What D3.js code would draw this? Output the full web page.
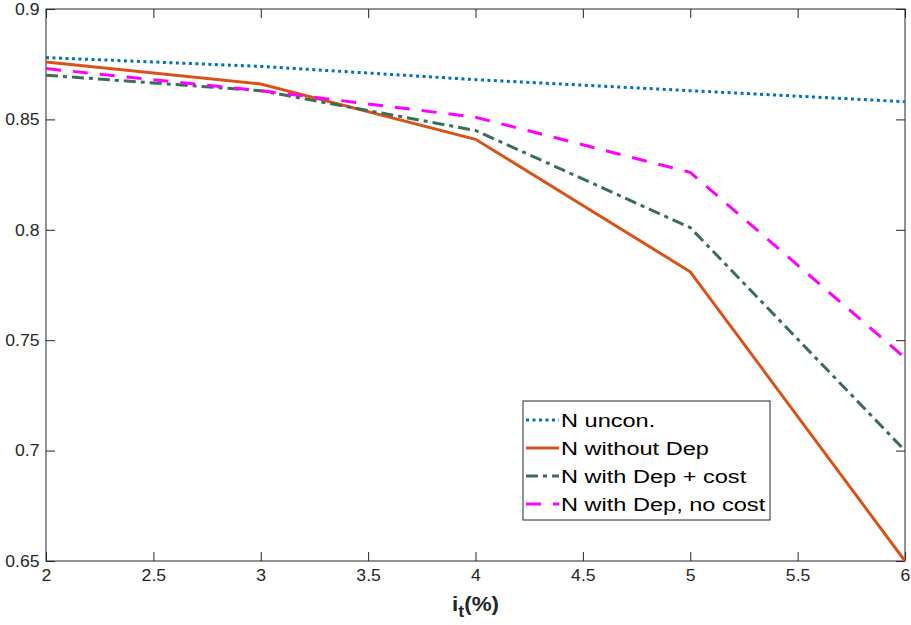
<!DOCTYPE html>
<html>
<head>
<meta charset="utf-8">
<script src="https://cdn.jsdelivr.net/npm/d3@7"></script>
<style>
  body { margin: 0; background: #fff; }
  svg { font-family: "Liberation Sans", Arial, sans-serif; }
</style>
</head>
<body>
<svg id="chart" width="911" height="625"></svg>
<script>
// Data
const rates = [2, 3, 4, 5, 6];
const unconValues = [0.878, 0.874, 0.868, 0.863, 0.858];
const withoutDepValues = [0.876, 0.866, 0.841, 0.781, 0.650];
const depCostValues = [0.870, 0.863, 0.845, 0.801, 0.700];
const depNoCostValues = [0.873, 0.863, 0.851, 0.826, 0.742];
const xTicks = [2, 2.5, 3, 3.5, 4, 4.5, 5, 5.5, 6];
const yTicks = [0.65, 0.7, 0.75, 0.8, 0.85, 0.9];

const series = [
  { name: "N uncon.", values: unconValues, color: "#0072BD", dash: "3,3.5" },
  { name: "N without Dep", values: withoutDepValues, color: "#D95319", dash: null },
  { name: "N with Dep + cost", values: depCostValues, color: "#3B6E55", dash: "12,5,4,5" },
  { name: "N with Dep, no cost", values: depNoCostValues, color: "#FF00FF", dash: "15,12" }
];

const margin = { top: 9, right: 6, bottom: 64, left: 46 };
const width = 911, height = 625;
const svg = d3.select("#chart");

const x = d3.scaleLinear().domain([2, 6]).range([margin.left, width - margin.right]);
const y = d3.scaleLinear().domain([0.65, 0.9]).range([height - margin.bottom, margin.top]);

const axisColor = "#262626";

// Box
svg.append("rect")
  .attr("x", x(2)).attr("y", y(0.9))
  .attr("width", x(6) - x(2)).attr("height", y(0.65) - y(0.9))
  .attr("fill", "none").attr("stroke", axisColor).attr("stroke-width", 1);

// Axes (ticks inward)
const xAxis = svg.append("g")
  .attr("transform", `translate(0,${y(0.65)})`)
  .call(d3.axisBottom(x).tickValues(xTicks).tickSize(-9).tickPadding(8).tickFormat(d3.format("")));
const xTop = svg.append("g")
  .attr("transform", `translate(0,${y(0.9)})`)
  .call(d3.axisTop(x).tickValues(xTicks).tickSize(-9).tickFormat(""));
const yAxis = svg.append("g")
  .attr("transform", `translate(${x(2)},0)`)
  .call(d3.axisLeft(y).tickValues(yTicks).tickSize(-9).tickPadding(6).tickFormat(d3.format("")));
const yRight = svg.append("g")
  .attr("transform", `translate(${x(6)},0)`)
  .call(d3.axisRight(y).tickValues(yTicks).tickSize(-9).tickFormat(""));

[xAxis, xTop, yAxis, yRight].forEach(g => {
  g.select(".domain").remove();
  g.selectAll("line").attr("stroke", axisColor);
  g.selectAll("text").attr("fill", axisColor)
    .style("font-size", "16.5px")
    .attr("transform", "scale(1.07,1)");
});

// X label
const xl = svg.append("text")
  .attr("transform", `translate(${x(4)},611) scale(1.12,1)`)
  .attr("text-anchor", "middle")
  .attr("fill", "#262626")
  .style("font-size", "20px").style("font-weight", "bold");
xl.append("tspan").text("i");
xl.append("tspan").attr("dy", 6).style("font-size", "16px").text("t");
xl.append("tspan").attr("dy", -6).text("(%)");

// Lines
const line = d3.line()
  .x((d, i) => x(rates[i]))
  .y(d => y(d));

const plot = svg.append("g");
series.forEach(s => {
  plot.append("path")
    .datum(s.values)
    .attr("d", line)
    .attr("fill", "none")
    .attr("stroke", s.color)
    .attr("stroke-width", 3)
    .attr("stroke-dasharray", s.dash);
});

// Legend
const lg = svg.append("g").attr("transform", "translate(523,401)");
lg.append("rect")
  .attr("width", 247).attr("height", 119)
  .attr("fill", "#fff").attr("stroke", axisColor).attr("stroke-width", 1);

series.forEach((s, i) => {
  const yy = 19 + i * 28;
  lg.append("line")
    .attr("x1", 3).attr("x2", 36).attr("y1", yy).attr("y2", yy)
    .attr("stroke", s.color).attr("stroke-width", 3)
    .attr("stroke-dasharray", s.dash);
  lg.append("text")
    .attr("transform", `translate(38,${yy + 7}) scale(1.24,1)`)
    .attr("fill", "#000")
    .style("font-size", "19px")
    .text(s.name);
});
</script>
</body>
</html>
